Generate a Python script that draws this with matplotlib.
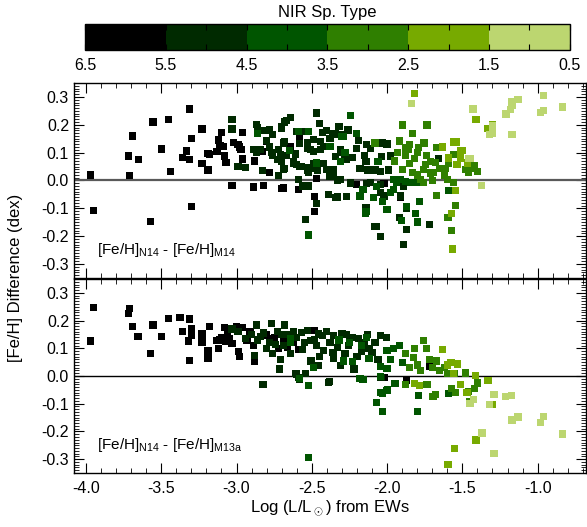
import numpy as np
import matplotlib
matplotlib.use("Agg")
import matplotlib.pyplot as plt
from matplotlib.colors import ListedColormap, BoundaryNorm
from matplotlib.ticker import MultipleLocator

# NIR spectral type bins (colorbar runs 6.5 -> 0.5)
type_bounds = [0.5, 1.5, 2.5, 3.5, 4.5, 5.5, 6.5]
type_colors = ["#bcd670", "#77aa00", "#2f7f00", "#005500", "#002a00", "#000000"]
cbar_ticks = [6.5, 5.5, 4.5, 3.5, 2.5, 1.5, 0.5]

# top panel: [Fe/H]N14 - [Fe/H]M14, (log L, difference) pairs per NIR type
top_t6 = [(-3.97, 0.020), (-3.95, -0.107), (-3.72, 0.088), (-3.71, 0.017), (-3.69, 0.160),
          (-3.65, 0.074), (-3.57, -0.146), (-3.555, 0.210), (-3.50, 0.113), (-3.45, 0.220),
          (-3.44, 0.032), (-3.36, 0.082), (-3.33, 0.106), (-3.31, 0.074), (-3.31, 0.257),
          (-3.30, 0.151), (-3.30, -0.094), (-3.23, 0.185), (-3.23, 0.061), (-3.19, 0.038),
          (-3.19, 0.097), (-3.18, 0.092), (-3.13, 0.104), (-3.12, 0.145), (-3.11, 0.127),
          (-3.10, 0.173), (-3.09, 0.121), (-3.08, 0.088), (-3.07, 0.064), (-3.03, -0.019),
          (-3.02, 0.137), (-2.99, 0.130), (-2.98, 0.120), (-2.97, 0.110), (-2.96, 0.173),
          (-2.96, 0.077), (-2.89, -0.021), (-2.88, 0.070), (-2.82, -0.019), (-2.80, 0.142),
          (-2.78, 0.029), (-2.83, 0.105), (-2.76, 0.099), (-2.70, -0.030), (-2.64, 0.123),
          (-2.58, 0.156), (-2.59, -0.033), (-2.69, -0.027), (-2.48, -0.058), (-2.48, -0.112),
          (-2.47, 0.008), (-2.205, -0.015), (-2.02, -0.010), (-1.91, -0.060), (-2.89, -0.024)]
top_t5 = [(-3.03, 0.220), (-3.03, 0.185), (-2.99, 0.050), (-2.94, 0.046), (-2.89, 0.110),
          (-2.87, 0.200), (-2.84, 0.180), (-2.83, 0.035), (-2.79, 0.180), (-2.77, 0.100),
          (-2.76, 0.164), (-2.76, 0.090), (-2.72, 0.018), (-2.70, 0.186), (-2.69, 0.040),
          (-2.68, 0.210), (-2.64, 0.225), (-2.86, 0.190), (-2.83, 0.180), (-2.78, 0.182),
          (-2.70, 0.194), (-2.67, 0.215), (-2.47, 0.242), (-2.45, 0.206), (-2.56, 0.176),
          (-2.80, 0.144), (-2.69, 0.135), (-2.87, 0.100), (-2.69, 0.042), (-2.47, 0.045),
          (-2.59, 0.004), (-2.56, -0.020), (-2.52, -0.020), (-2.47, -0.082), (-2.54, -0.139),
          (-2.39, -0.050), (-2.34, -0.062), (-2.32, 0.194), (-2.68, 0.139), (-2.60, 0.175),
          (-2.43, 0.173), (-2.40, 0.179), (-2.36, 0.167), (-2.31, 0.166), (-2.26, 0.181),
          (-2.58, 0.134), (-2.53, 0.116), (-2.49, 0.104), (-2.44, 0.110), (-2.70, 0.086),
          (-2.62, 0.068), (-2.58, 0.050), (-2.68, 0.044), (-2.49, 0.062), (-2.46, 0.038),
          (-2.53, 0.038), (-2.38, 0.121), (-2.345, 0.086), (-2.27, 0.074), (-2.23, 0.083),
          (-2.205, 0.116), (-2.19, 0.143), (-2.135, 0.128), (-2.11, 0.116), (-2.035, 0.136),
          (-2.00, 0.131), (-2.035, 0.086), (-1.98, 0.088), (-2.14, 0.068), (-2.18, 0.044),
          (-2.13, 0.038), (-2.08, 0.038), (-2.045, 0.032), (-1.99, 0.038), (-2.36, 0.038),
          (-2.38, 0.014), (-2.31, 0.003), (-2.245, -0.012), (-2.135, -0.010), (-2.045, -0.015),
          (-2.555, -0.021), (-2.33, -0.059), (-2.27, -0.057), (-2.02, -0.056), (-2.045, -0.044),
          (-1.91, -0.056), (-2.03, 0.135), (-2.00, 0.128), (-2.11, -0.008), (-2.245, -0.008),
          (-1.89, -0.020), (-1.87, -0.100), (-1.92, -0.133), (-1.87, -0.175), (-1.72, -0.157),
          (-1.89, -0.229), (-2.045, -0.201), (-2.07, -0.166), (-2.14, -0.098), (-2.08, -0.164),
          (-1.66, 0.078), (-2.84, 0.110), (-2.61, 0.095), (-2.42, 0.060), (-2.30, 0.100),
          (-2.15, 0.090), (-2.72, 0.111), (-2.71, 0.093), (-2.73, 0.075), (-2.70, 0.069),
          (-2.62, 0.063), (-2.60, 0.057), (-2.57, 0.051), (-2.53, 0.045), (-2.52, 0.028),
          (-2.49, 0.042), (-2.51, 0.111), (-2.53, 0.135), (-2.49, 0.146), (-2.44, 0.141),
          (-2.42, 0.123), (-2.38, 0.152), (-2.345, 0.170), (-2.31, 0.111), (-2.28, 0.093),
          (-2.40, 0.039), (-2.36, 0.030), (-2.33, 0.002), (-2.78, 0.120), (-2.67, 0.090)]
top_t4 = [(-2.59, 0.176), (-2.52, 0.175), (-2.65, 0.107), (-2.47, 0.063), (-2.52, -0.196),
          (-2.30, 0.159), (-2.38, 0.123), (-2.245, 0.232), (-2.205, 0.168), (-2.29, 0.158),
          (-2.31, 0.068), (-2.28, 0.100), (-2.06, 0.068), (-2.08, 0.136), (-2.16, -0.032),
          (-2.18, -0.056), (-2.09, -0.062), (-2.03, -0.074), (-2.00, -0.104), (-1.785, -0.075),
          (-1.87, -0.094), (-1.81, -0.118), (-1.80, -0.149), (-1.905, -0.145), (-2.14, -0.110),
          (-1.80, -0.008), (-1.845, -0.008), (-1.91, 0.004), (-1.935, -0.008), (-1.96, 0.004),
          (-1.96, -0.031), (-1.98, -0.044), (-2.07, -0.021), (-2.145, -0.117), (-1.59, -0.036),
          (-1.88, -0.005), (-2.86, 0.170)]
top_t3 = [(-1.90, 0.199), (-1.735, 0.199), (-1.83, 0.168), (-1.92, 0.142), (-2.08, 0.135),
          (-1.88, 0.117), (-1.85, 0.129), (-1.79, 0.119), (-1.755, 0.135), (-1.67, 0.119),
          (-1.56, 0.093), (-1.59, 0.063), (-1.61, 0.042), (-1.68, 0.066), (-1.65, 0.043),
          (-1.71, 0.069), (-1.745, 0.057), (-1.71, 0.027), (-1.76, -0.008), (-1.78, 0.004),
          (-1.60, 0.003), (-1.56, -0.008), (-1.67, -0.054), (-1.545, -0.089), (-1.595, -0.133),
          (-1.57, -0.179), (-1.48, 0.039), (-1.42, 0.054), (-1.46, 0.030), (-1.40, 0.032),
          (-1.44, 0.045), (-1.88, 0.090), (-1.95, 0.070), (-1.85, 0.060), (-1.93, 0.100),
          (-1.80, 0.100), (-1.82, 0.080), (-1.74, 0.090), (-1.76, 0.040), (-1.69, 0.030),
          (-1.83, 0.030), (-1.90, 0.040), (-1.80, 0.020), (-1.70, 0.000), (-1.62, 0.020),
          (-1.86, 0.110)]
top_t2 = [(-1.82, 0.313), (-1.63, 0.120), (-1.56, 0.138), (-1.54, 0.138), (-1.51, 0.106),
          (-1.465, 0.063), (-1.535, 0.057), (-1.59, 0.081), (-1.545, -0.036), (-1.57, -0.118),
          (-1.565, -0.246), (-1.41, 0.218), (-1.30, 0.200), (-1.33, 0.186), (-1.50, 0.107),
          (-1.51, 0.080)]
top_t1 = [(-1.84, 0.277), (-1.46, 0.080), (-0.96, 0.304), (-1.13, 0.292), (-1.17, 0.282),
          (-1.17, 0.270), (-1.18, 0.256), (-1.21, 0.239), (-0.835, 0.264), (-0.96, 0.250),
          (-0.98, 0.245), (-1.43, 0.257), (-1.30, 0.196), (-1.30, 0.168), (-1.32, 0.164),
          (-1.17, 0.164), (-1.45, 0.078), (-1.375, -0.018)]

# bottom panel: [Fe/H]N14 - [Fe/H]M13a
bot_t6 = [(-3.95, 0.247), (-3.97, 0.126), (-3.71, 0.243), (-3.72, 0.225), (-3.69, 0.179),
          (-3.655, 0.143), (-3.57, 0.081), (-3.555, 0.184), (-3.50, 0.143), (-3.45, 0.207),
          (-3.375, 0.211), (-3.36, 0.160), (-3.32, 0.126), (-3.31, 0.206), (-3.30, 0.170),
          (-3.31, 0.057), (-3.30, 0.148), (-3.23, 0.152), (-3.23, 0.123), (-3.19, 0.090),
          (-3.19, 0.065), (-3.18, 0.179), (-3.13, 0.128), (-3.12, 0.100), (-3.11, 0.130),
          (-3.10, 0.140), (-3.08, 0.175), (-3.07, 0.125), (-3.03, 0.116), (-3.00, 0.179),
          (-2.985, 0.089), (-2.98, 0.071), (-2.96, 0.175), (-2.89, 0.110), (-2.88, 0.051),
          (-2.80, 0.148), (-2.48, 0.164), (-2.58, 0.096), (-2.69, 0.126), (-2.62, 0.122),
          (-2.59, 0.095), (-3.06, 0.150), (-2.93, 0.130), (-2.75, 0.140), (-2.72, 0.100),
          (-1.72, 0.035), (-2.02, -0.005), (-1.87, -0.017), (-3.05, 0.135), (-2.91, 0.160),
          (-2.78, 0.135), (-2.66, 0.105)]
bot_t5 = [(-3.03, 0.170), (-2.99, 0.160), (-2.94, 0.134), (-2.88, 0.075), (-2.865, 0.184),
          (-2.84, 0.143), (-2.82, -0.032), (-2.78, 0.120), (-2.77, 0.190), (-2.715, 0.025),
          (-2.73, 0.160), (-2.68, 0.184), (-2.61, 0.010), (-2.59, -0.005), (-2.83, -0.032),
          (-2.60, 0.007), (-2.58, -0.013), (-2.54, 0.010), (-2.39, -0.023), (-2.505, 0.054),
          (-2.27, 0.150), (-2.31, 0.037), (-2.04, -0.005), (-2.22, 0.025), (-2.57, 0.158),
          (-2.53, 0.164), (-2.455, 0.152), (-2.43, 0.146), (-2.355, 0.146), (-2.30, 0.152),
          (-2.23, 0.140), (-2.19, 0.134), (-2.045, 0.146), (-2.005, 0.138), (-2.69, 0.110),
          (-2.51, 0.128), (-2.42, 0.093), (-2.33, 0.104), (-2.255, 0.110), (-2.10, 0.086),
          (-2.64, 0.081), (-2.50, 0.057), (-2.455, 0.039), (-2.355, 0.063), (-2.31, 0.039),
          (-2.385, -0.020), (-2.76, 0.080), (-2.66, 0.150), (-2.62, 0.160), (-2.55, 0.120),
          (-2.47, 0.110), (-2.45, 0.070), (-2.38, 0.120), (-2.28, 0.080), (-2.20, 0.070),
          (-2.15, 0.120), (-2.12, 0.100), (-2.08, 0.120), (-2.06, 0.060), (-2.90, 0.150),
          (-2.80, 0.100), (-2.71, 0.060), (-2.86, 0.130), (-2.82, 0.155), (-2.74, 0.115),
          (-2.70, 0.150), (-2.60, 0.140), (-2.56, 0.095), (-2.48, 0.130), (-2.40, 0.160),
          (-2.36, 0.085), (-2.25, 0.130), (-2.17, 0.090), (-2.13, 0.150)]
bot_t4 = [(-2.64, 0.120), (-2.52, -0.034), (-2.52, -0.293), (-2.49, 0.030), (-2.29, 0.054),
          (-2.64, 0.134), (-2.17, 0.110), (-2.00, 0.093), (-1.955, 0.099), (-1.92, 0.110),
          (-2.23, 0.051), (-2.12, 0.063), (-2.045, 0.033), (-2.00, 0.027), (-2.58, -0.010),
          (-2.18, -0.008), (-2.045, -0.002), (-1.95, -0.026), (-1.995, -0.050), (-2.04, -0.059),
          (-2.07, -0.097), (-2.03, -0.127), (-1.59, -0.064), (-1.79, -0.070), (-1.80, -0.129),
          (-1.945, -0.028), (-2.00, -0.053), (-2.03, -0.062), (-2.16, -0.013), (-2.135, 0.140),
          (-2.25, 0.120), (-2.32, 0.130), (-1.98, 0.060), (-1.90, 0.050)]
bot_t3 = [(-1.76, 0.128), (-1.74, 0.100), (-1.67, 0.054), (-1.48, 0.011), (-1.57, -0.044),
          (-1.545, -0.060), (-1.68, -0.068), (-1.695, -0.075), (-1.735, -0.032), (-1.88, -0.032),
          (-1.825, 0.067), (-1.40, -0.025), (-1.42, -0.046), (-1.46, -0.055), (-1.455, -0.091),
          (-1.85, 0.030), (-1.80, 0.040), (-1.78, 0.020), (-1.70, 0.030), (-1.65, 0.020),
          (-1.62, 0.030), (-1.60, 0.010), (-1.55, 0.010), (-1.88, 0.080), (-1.82, 0.100),
          (-1.72, 0.060)]
bot_t2 = [(-1.63, 0.096), (-1.575, 0.049), (-1.53, 0.043), (-1.51, -0.032), (-1.785, -0.034),
          (-1.82, -0.028), (-1.55, -0.262), (-1.595, -0.319), (-1.415, 0.001), (-1.33, -0.017),
          (-1.30, -0.103), (-1.41, -0.231), (-1.47, -0.060), (-1.60, 0.040), (-1.56, 0.010)]
bot_t1 = [(-1.45, -0.100), (-1.425, -0.084), (-1.29, -0.066), (-1.215, -0.074), (-1.175, -0.070),
          (-1.32, -0.103), (-1.17, -0.159), (-1.13, -0.148), (-0.98, -0.167), (-0.96, -0.145),
          (-0.835, -0.209), (-1.37, -0.206), (-1.29, -0.280)]

panel_labels = [r"[Fe/H]$_{\rm N14}$ - [Fe/H]$_{\rm M14}$",
                r"[Fe/H]$_{\rm N14}$ - [Fe/H]$_{\rm M13a}$"]

plt.rcParams['font.family'] = ['Liberation Sans', 'DejaVu Sans']
plt.rcParams['mathtext.fontset'] = 'custom'
plt.rcParams['mathtext.rm'] = 'Liberation Sans'

cmap = ListedColormap(type_colors)
norm = BoundaryNorm(type_bounds, cmap.N)


def stack(groups):
    # groups ordered type 6 .. 1 so the darker points are drawn first
    xs, ys, ts = [], [], []
    for t, pts in groups:
        for x, y in pts:
            xs.append(x)
            ys.append(y)
            ts.append(t)
    return xs, ys, ts


top_data = stack([(6, top_t6), (5, top_t5), (4, top_t4), (3, top_t3), (2, top_t2), (1, top_t1)])
bot_data = stack([(6, bot_t6), (5, bot_t5), (4, bot_t4), (3, bot_t3), (2, bot_t2), (1, bot_t1)])

fig = plt.figure(figsize=(5.87, 5.27), dpi=100)
ax_top = fig.add_axes([0.126, 0.4725, 0.872, 0.370])
ax_bot = fig.add_axes([0.126, 0.1025, 0.872, 0.368])
cax = fig.add_axes([0.1448, 0.905, 0.826, 0.049])

for ax, data, lab, zc, zw in [(ax_top, top_data, panel_labels[0], '0.35', 1.6),
                              (ax_bot, bot_data, panel_labels[1], 'black', 1.0)]:
    xs, ys, ts = data
    ax.scatter(xs, ys, c=ts, cmap=cmap, norm=norm, marker='s', s=27, linewidths=0, zorder=3)
    ax.axhline(0, color=zc, lw=zw, zorder=2)
    ax.set_xlim(-4.08, -0.68)
    ax.set_ylim(-0.35, 0.35)
    ax.xaxis.set_major_locator(MultipleLocator(0.5))
    ax.xaxis.set_minor_locator(MultipleLocator(0.1))
    ax.yaxis.set_minor_locator(MultipleLocator(0.01))
    ax.tick_params(which='both', direction='in', top=True, right=True, labelsize=11.5)
    ax.tick_params(which='major', length=7, width=0.8)
    ax.tick_params(which='minor', length=3.5, width=0.6)
    yt = np.round(np.arange(-0.3, 0.31, 0.1), 1)
    ax.set_yticks(yt)
    ax.set_yticklabels(["%.1f" % v for v in yt])
    ax.text(-3.93, -0.25, lab, fontsize=11, va='center', ha='left')
    for sp in ax.spines.values():
        sp.set_linewidth(1.0)

ax_top.tick_params(labelbottom=False)
xt = [-4.0, -3.5, -3.0, -2.5, -2.0, -1.5, -1.0]
ax_bot.set_xticks(xt)
ax_bot.set_xticklabels(["%.1f" % v for v in xt])
ax_bot.tick_params(axis='x', pad=6)
ax_bot.set_xlabel(r"Log (L/L$_\odot$) from EWs", fontsize=12, labelpad=1)
fig.text(0.027, 0.472, "[Fe/H] Difference (dex)", rotation=90, fontsize=12,
         ha='center', va='center')

# colorbar
sm = matplotlib.cm.ScalarMappable(norm=norm, cmap=cmap)
cb = fig.colorbar(sm, cax=cax, orientation='horizontal', ticks=cbar_ticks)
cb.outline.set_linewidth(1.0)
cax.set_xlim(6.5, 0.5)
cax.set_xticks(cbar_ticks)
cax.set_xticklabels(["%.1f" % v for v in cbar_ticks])
cax.xaxis.set_minor_locator(MultipleLocator(1.0))
cax.tick_params(which='both', direction='in', top=True, bottom=True, labelsize=11.5,
                length=4, width=0.8, pad=6)
cax.set_title("NIR Sp. Type", fontsize=12, pad=5)

fig.savefig("out.png", dpi=100)
